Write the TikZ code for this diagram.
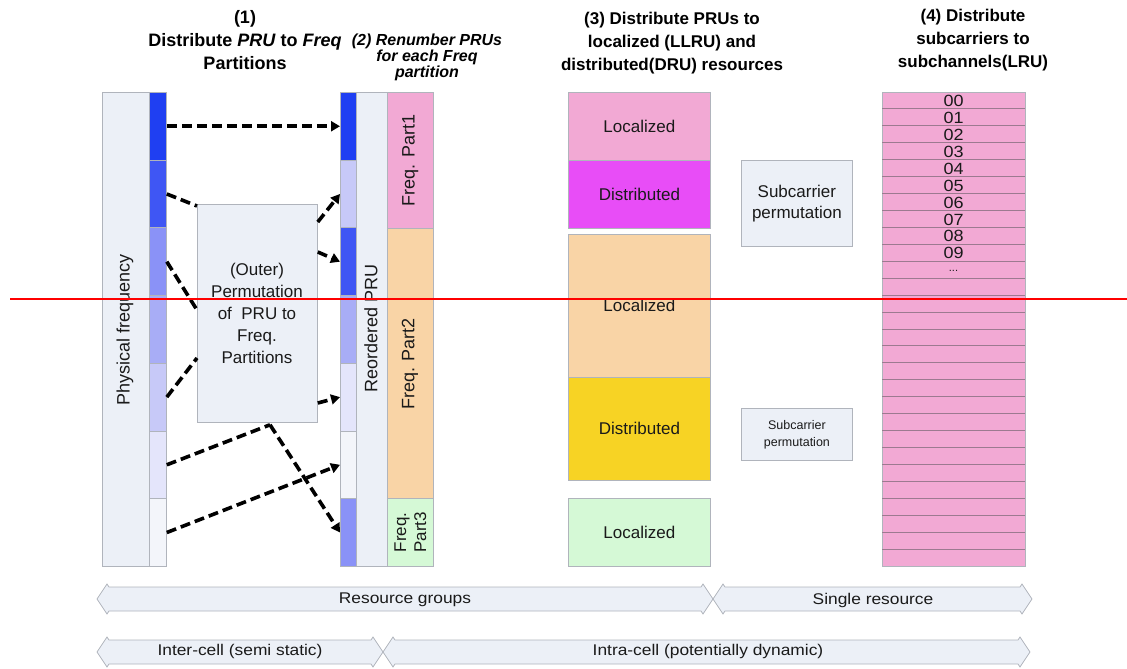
\documentclass[tikz,border=0pt]{standalone}
\usepackage{fontspec}
\setmainfont{Liberation Sans}
\usetikzlibrary{arrows.meta,calc}
\definecolor{panel}{HTML}{ECF0F7}
\definecolor{edge}{HTML}{B0B4BC}
\definecolor{bA}{HTML}{1F3FF2}
\definecolor{bB}{HTML}{3F56F4}
\definecolor{bC}{HTML}{8A92F7}
\definecolor{bD}{HTML}{A8ADF6}
\definecolor{bE}{HTML}{C7C9F8}
\definecolor{bF}{HTML}{E4E5FB}
\definecolor{bG}{HTML}{F3F5FA}
\definecolor{fpink}{HTML}{F2A9D4}
\definecolor{fpeach}{HTML}{F9D4A6}
\definecolor{fgreen}{HTML}{D5F9D6}
\definecolor{fmag}{HTML}{E84DF7}
\definecolor{fgold}{HTML}{F7D324}
\definecolor{rowline}{HTML}{9C7A90}
\definecolor{txt}{HTML}{1A1A1A}
\newcommand\fs[2]{\fontsize{#1}{#2}\selectfont}
\newcommand\dblarr[3]{%
  \draw[bigarrow] (#1,#3) -- (#1+10,#3-15) -- (#1+12,#3-12) -- (#2-12,#3-12) -- (#2-10,#3-15) -- (#2,#3)
     -- (#2-10,#3+15) -- (#2-12,#3+12) -- (#1+12,#3+12) -- (#1+10,#3+15) -- cycle;}
\begin{document}
\begin{tikzpicture}[x=1pt,y=-1pt,
  box/.style={draw=edge, line width=0.8pt, inner sep=0pt, anchor=north west},
  lbl/.style={text=txt, inner sep=0pt, align=center},
  hdr/.style={text=black, inner sep=0pt, align=center},
  flow/.style={black, line width=3.6pt, dash pattern=on 10pt off 5pt},
  flowarr/.style={flow, -{Triangle[length=9pt,width=10pt]}},
  bigarrow/.style={draw=edge, fill=panel, line width=0.8pt, line join=miter},
  subline/.style={rowline, line width=1pt}]
\useasboundingbox (0,0) rectangle (1127,669);

% headers
\node[hdr, font=\bfseries\fs{18}{23}] (h1) at (245,40) {(1)\\Distribute \textit{PRU} to \textit{Freq}\\Partitions};
\node[hdr, font=\bfseries\itshape\fs{16}{16}] (h2) at (427,57) {(2) Renumber PRUs\\for each Freq\\partition};
\node[hdr, font=\bfseries\fs{17}{23}] (h3) at (672,43) {(3) Distribute PRUs to\\localized (LLRU) and\\distributed(DRU) resources};
\node[hdr, font=\bfseries\fs{17}{23}] (h4) at (973,40) {(4) Distribute\\subcarriers to\\subchannels(LRU)};

% physical frequency column
\node[box, fill=panel, minimum width=47pt, minimum height=474pt] (phys) at (102,92) {};
\node[lbl, rotate=90, font=\fs{18}{20}] (physl) at (125,330) {Physical frequency};
\foreach \i/\c in {1/bA,2/bB,3/bC,4/bD,5/bE,6/bF,7/bG}
  \node[box, fill=\c, minimum width=17pt, minimum height=67.71pt] (p\i) at (149,{92+67.71*(\i-1)}) {};

% reordered column
\foreach \i/\c in {1/bA,2/bE,3/bB,4/bD,5/bF,6/bG,7/bC}
  \node[box, fill=\c, minimum width=16pt, minimum height=67.71pt] (r\i) at (340,{92+67.71*(\i-1)}) {};
\node[box, fill=panel, minimum width=31pt, minimum height=474pt] (reo) at (356,92) {};
\node[lbl, rotate=90, font=\fs{18}{20}] (reol) at (371,328) {Reordered PRU};
\node[box, fill=fpink, minimum width=46pt, minimum height=136pt] (fp1) at (387,92) {};
\node[box, fill=fpeach, minimum width=46pt, minimum height=270pt] (fp2) at (387,228) {};
\node[box, fill=fgreen, minimum width=46pt, minimum height=68pt] (fp3) at (387,498) {};
\node[lbl, rotate=90, font=\fs{18}{20}] at (fp1.center) {Freq. Part1};
\node[lbl, rotate=90, font=\fs{18}{20}] at (410,364) {Freq. Part2};
\node[lbl, rotate=90, font=\fs{17}{20}] at (fp3.center) {Freq.\\Part3};

% permutation box
\node[box, fill=panel, minimum width=120pt, minimum height=218pt] (perm) at (197,204) {};
\node[lbl, font=\fs{17}{22}] (perml) at (257,313) {(Outer)\\Permutation\\of\ \ PRU to\\Freq.\\Partitions};

% connectors
\coordinate (pA) at ($(perm.north west)+(0,2)$);
\coordinate (pB) at ($(perm.north east)+(0,18)$);
\coordinate (pC) at ($(perm.north east)+(0,48)$);
\coordinate (pD) at ($(perm.north west)+(0,106)$);
\coordinate (pE) at ($(perm.north west)+(0,154)$);
\coordinate (pF) at ($(perm.north east)+(0,199)$);
\coordinate (pG) at ($(perm.south west)+(73,2)$);
\draw[flowarr] (p1.east) -- (r1.west);
\draw[flow] (p2.east) -- (pA);
\draw[flowarr] (pB) -- (r2.west);
\draw[flowarr] (pC) -- (r3.west);
\draw[flow] (p3.east) -- (pD);
\draw[flow] (p5.east) -- (pE);
\draw[flowarr] (pF) -- (r5.west);
\draw[flow] (p6.east) -- (pG);
\draw[flowarr] (pG) -- (r7.west);
\draw[flowarr] (p7.east) -- (r6.west);

% column 3
\node[box, fill=fpink, minimum width=142pt, minimum height=68pt] (c1) at (568,92) {};
\node[box, fill=fmag, minimum width=142pt, minimum height=68pt] (c2) at (568,160) {};
\node[box, fill=fpeach, minimum width=142pt, minimum height=143pt] (c3) at (568,234) {};
\node[box, fill=fgold, minimum width=142pt, minimum height=103pt] (c4) at (568,377) {};
\node[box, fill=fgreen, minimum width=142pt, minimum height=68pt] (c5) at (568,498) {};
\node[lbl, font=\fs{17}{20}] at (c1.center) {Localized};
\node[lbl, font=\fs{17}{20}] at (c2.center) {Distributed};
\node[lbl, font=\fs{17}{20}] at (c3.center) {Localized};
\node[lbl, font=\fs{17}{20}] at (c4.center) {Distributed};
\node[lbl, font=\fs{17}{20}] at (c5.center) {Localized};

% subcarrier permutation boxes
\node[box, fill=panel, minimum width=111pt, minimum height=86pt] (sc1) at (741,160) {};
\node[lbl, font=\fs{17}{21}] at (sc1.center) {Subcarrier\\permutation};
\node[box, fill=panel, minimum width=111pt, minimum height=52pt] (sc2) at (741,408) {};
\node[lbl, font=\fs{12.5}{17}] at (sc2.center) {Subcarrier\\permutation};

% subchannel column
\node[box, fill=fpink, minimum width=143pt, minimum height=474pt] (sub) at (882,92) {};
\foreach \k in {1,...,27}
  \draw[subline] ($(sub.north west)+(0,16.93*\k)$) -- ++(143,0);
\foreach \k/\t in {0/00,1/01,2/02,3/03,4/04,5/05,6/06,7/07,8/08,9/09}
  \node[lbl, font=\fs{18}{20}, yscale=0.9] (n\k) at (953.5,{92+16.93*(\k+0.5)+0.5}) {\t};
\node[lbl, font=\fs{11}{12}] (n10) at (953.5,{92+16.93*10.5+1}) {...};

% bottom range arrows
\dblarr{97}{713}{599}
\dblarr{713}{1032}{599}
\dblarr{97}{383}{652}
\dblarr{383}{1030}{652}
\node[lbl, font=\fs{15.5}{18}, xscale=1.12] (rg) at (405,600) {Resource groups};
\node[lbl, font=\fs{15.5}{18}, xscale=1.12] (sr) at (873,600) {Single resource};
\node[lbl, font=\fs{15.5}{18}, xscale=1.12] (ic) at (240,651) {Inter-cell (semi static)};
\node[lbl, font=\fs{15.5}{18}, xscale=1.12] (ia) at (708,651) {Intra-cell (potentially dynamic)};

% red guide line
\coordinate (redA) at (10,299);
\coordinate (redB) at (1127,299);
\draw[red, line width=2pt] (redA) -- (redB);
\end{tikzpicture}
\end{document}
